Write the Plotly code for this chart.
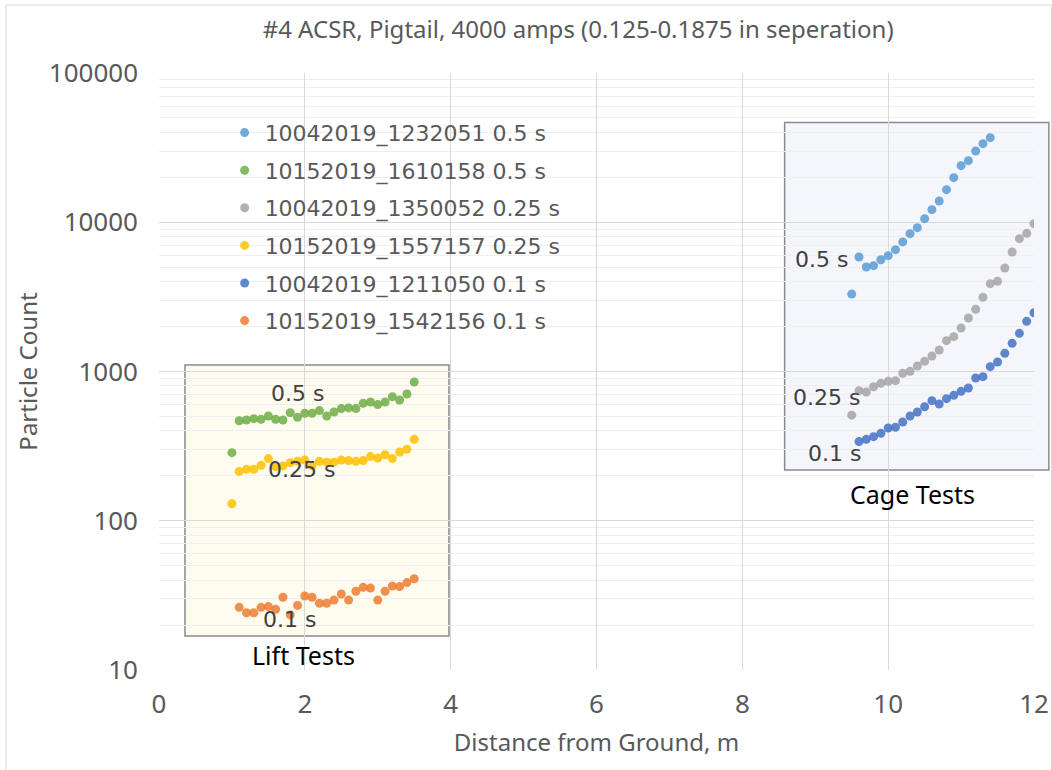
import plotly.graph_objects as go
import math

# ---------------- data ----------------
lift_x = [1.1, 1.2, 1.3, 1.4, 1.5, 1.6, 1.7, 1.8, 1.9, 2.0, 2.1, 2.2, 2.3,
          2.4, 2.5, 2.6, 2.7, 2.8, 2.9, 3.0, 3.1, 3.2, 3.3, 3.4, 3.5]

green_x = [1.0] + lift_x
green_y = [286, 468, 473, 483, 478, 503, 478, 473, 530, 493, 525, 525, 547,
           503, 535, 564, 570, 564, 612, 625, 600, 625, 678, 644, 707, 850]

yellow_x = [1.0] + lift_x
yellow_y = [130, 214, 221, 221, 235, 261, 230, 233, 245, 250, 255, 233, 250,
            247, 247, 255, 253, 250, 253, 269, 263, 277, 261, 289, 301, 351]

orange_x = lift_x
orange_y = [26.3, 24.2, 24.2, 26.3, 26.6, 25.5, 30.7, 23.4, 27.1, 31.3, 30.7,
            28.0, 28.0, 29.4, 32.3, 29.4, 33.7, 35.8, 35.4, 29.4, 33.7, 36.5,
            36.2, 38.5, 40.9]

lblue_x = [9.5, 9.6, 9.7, 9.8, 9.9, 10.0, 10.1, 10.2, 10.3, 10.4, 10.5, 10.6,
           10.7, 10.8, 10.9, 11.0, 11.1, 11.2, 11.3, 11.4]
lblue_y = [3300, 5850, 5010, 5120, 5610, 5970, 6550, 7380, 8390, 9200, 10570,
           12140, 13880, 16530, 19890, 23940, 25860, 30030, 33620, 36870]

gray_x = [9.5, 9.6, 9.7, 9.8, 9.9, 10.0, 10.1, 10.2, 10.3, 10.4, 10.5, 10.6,
          10.7, 10.8, 10.9, 11.0, 11.1, 11.2, 11.3, 11.4, 11.5, 11.6, 11.7,
          11.8, 11.9, 12.0]
gray_y = [510, 744, 729, 791, 833, 859, 868, 972, 1002, 1089, 1170, 1270, 1394,
          1609, 1711, 1956, 2283, 2610, 3141, 3877, 4020, 4937, 6321, 7763,
          8431, 9784]

dblue_x = [9.6, 9.7, 9.8, 9.9, 10.0, 10.1, 10.2, 10.3, 10.4, 10.5, 10.6, 10.7,
           10.8, 10.9, 11.0, 11.1, 11.2, 11.3, 11.4, 11.5, 11.6, 11.7, 11.8,
           11.9, 12.0]
dblue_y = [339, 351, 366, 385, 418, 423, 459, 503, 535, 581, 638, 606, 658,
           692, 736, 775, 904, 923, 1078, 1158, 1323, 1544, 1802, 2169, 2477]

series = [
    ("10042019_1232051 0.5 s", lblue_x, lblue_y, "#5B9BD5"),
    ("10152019_1610158 0.5 s", green_x, green_y, "#70AD47"),
    ("10042019_1350052 0.25 s", gray_x, gray_y, "#A5A5A5"),
    ("10152019_1557157 0.25 s", yellow_x, yellow_y, "#FFC000"),
    ("10042019_1211050 0.1 s", dblue_x, dblue_y, "#4472C4"),
    ("10152019_1542156 0.1 s", orange_x, orange_y, "#ED7D31"),
]

# label texts: (text, x, y-value)
series_labels = [
    ("0.5 s", 1.90, 715), ("0.25 s", 1.96, 219), ("0.1 s", 1.79, 21.9),
    ("0.5 s", 9.08, 5650), ("0.25 s", 9.15, 671), ("0.1 s", 9.27, 283),
]
group_labels = [("Lift Tests", 1.98, 12.6), ("Cage Tests", 10.33, 151)]

title_text = "#4 ACSR, Pigtail, 4000 amps (0.125-0.1875 in seperation)"
x_title = "Distance from Ground, m"
y_title = "Particle Count"

# ---------------- figure ----------------
fig = go.Figure()
for i, (name, xs, ys, col) in enumerate(series):
    fig.add_trace(go.Scatter(
        x=xs, y=ys, mode="markers", name=name, legendgroup=f"g{i}",
        marker=dict(color=col, size=9, opacity=0.85, line=dict(width=0)),
    ))

calibri = "Noto Sans, Open Sans, sans-serif"
label_font = "DejaVu Sans, sans-serif"

annotations = []
for t, x, y in series_labels:
    annotations.append(dict(x=x, y=math.log10(y), xref="x", yref="y", text=t,
                            showarrow=False,
                            font=dict(family=label_font, size=22, color="#404040")))
for t, x, y in group_labels:
    annotations.append(dict(x=x, y=math.log10(y), xref="x", yref="y", text=t,
                            showarrow=False,
                            font=dict(family=calibri, size=25, color="#000000")))

shapes = [
    # lift tests box
    dict(type="rect", xref="paper", yref="paper", x0=0.0297, x1=0.3314,
         y0=0.057, y1=0.511, fillcolor="#FEFCEF",
         line=dict(color="#8A8A8A", width=1.5), layer="below"),
    # cage tests box
    dict(type="rect", xref="paper", yref="paper", x0=0.715, x1=1.017,
         y0=0.335, y1=0.917, fillcolor="#F4F6FB",
         line=dict(color="#8A8A8A", width=1.5), layer="below"),
    # chart area border
    dict(type="rect", xref="paper", yref="paper", x0=-0.1749, x1=1.02,
         y0=-0.17, y1=1.1139, fillcolor="rgba(0,0,0,0)",
         line=dict(color="#D9D9D9", width=1), layer="below"),
]

fig.update_layout(
    width=1052, height=770, autosize=False,
    margin=dict(l=159, r=18, t=73, b=100, autoexpand=False),
    paper_bgcolor="white", plot_bgcolor="rgba(0,0,0,0)",
    title=dict(text=title_text, x=0.479, xref="paper", xanchor="center",
               y=1 - 30 / 770, yanchor="middle",
               font=dict(family=calibri, size=24, color="#595959")),
    xaxis=dict(range=[0, 12], dtick=2, showgrid=True, gridcolor="#D9D9D9",
               zeroline=False, showline=False, ticks="", ticklabelstandoff=16,
               automargin=False,
               tickfont=dict(family=calibri, size=26, color="#595959"),
               title=dict(text=x_title, standoff=14,
                          font=dict(family=calibri, size=24, color="#595959"))),
    yaxis=dict(type="log", range=[1, 5], dtick=1, showgrid=True,
               gridcolor="#D9D9D9", zeroline=False, showline=False, ticks="",
               tickformat="d", ticklabelstandoff=20, automargin=False,
               tickfont=dict(family=calibri, size=26, color="#595959"),
               minor=dict(showgrid=True, gridcolor="#EEEEEE", dtick="D1", ticks=""),
               title=dict(text=y_title, standoff=4,
                          font=dict(family=calibri, size=24, color="#595959"))),
    legend=dict(x=0.075, y=0.935, xanchor="left", yanchor="top",
                bgcolor="rgba(0,0,0,0)", traceorder="grouped", tracegroupgap=6,
                font=dict(family=label_font, size=22, color="#595959")),
    annotations=annotations,
    shapes=shapes,
)

fig.write_html("out.html",
               config={"displayModeBar": False},
               post_script="document.body.style.margin='0px';"
                           "document.body.style.overflow='hidden';"
                           "document.documentElement.style.overflow='hidden';")
